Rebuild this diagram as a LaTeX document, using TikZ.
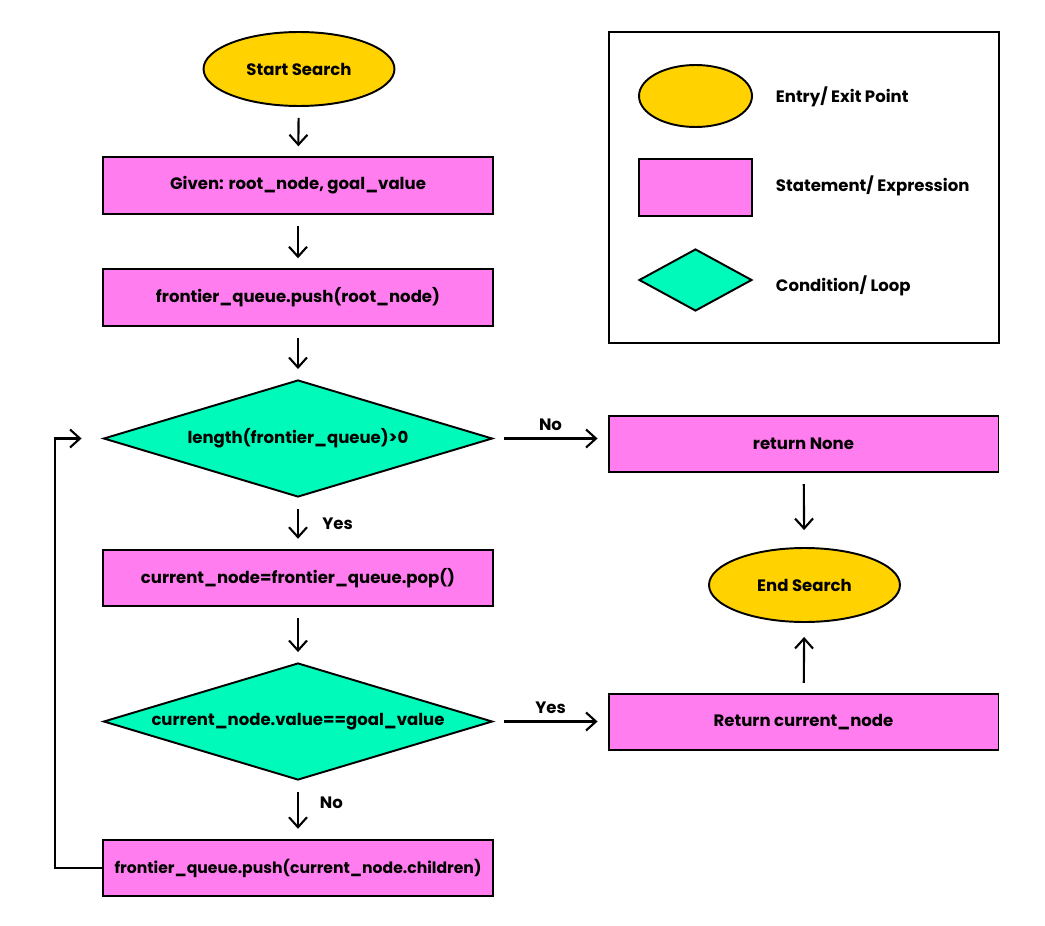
\documentclass[tikz,border=0pt]{standalone}
\usepackage{fontspec}
\setmainfont{Poppins}
\usetikzlibrary{shapes.geometric, arrows.meta}

\definecolor{entry}{RGB}{255,210,0}
\definecolor{stmt}{RGB}{255,125,238}
\definecolor{cond}{RGB}{0,250,185}

\begin{document}
\begin{tikzpicture}[x=0.02cm, y=-0.02cm, line width=1.1pt,
        font=\fontsize{9.4}{11}\selectfont\bfseries,
        term/.style={draw, ellipse, fill=entry, minimum width=3.82cm, minimum height=1.48cm, inner sep=0pt},
        stmtbox/.style={draw, rectangle, fill=stmt, minimum width=7.8cm, minimum height=1.13cm, inner sep=0pt},
        test/.style={draw, diamond, fill=cond, minimum width=7.78cm, minimum height=2.34cm, inner sep=0pt, aspect=3.3},
        arr/.style={-{Straight Barb[length=2mm, width=3.6mm]}, line width=1.2pt, shorten <=0.22cm, shorten >=0.2cm}]
        \useasboundingbox (0,0) rectangle (1045,926);

        % Fluxo
        \node[term] (start) at (299,69) {Start Search};
        \node[stmtbox] (given) at (298,185.5) {Given: root\_node, goal\_value};
        \node[stmtbox] (push) at (298,297.5) {frontier\_queue.push(root\_node)};
        \node[test] (len) at (298,438.5) {length(frontier\_queue)>0};
        \node[stmtbox] (pop) at (298,578) {current\_node=frontier\_queue.pop()};
        \node[test] (eq) at (298,721.5) {current\_node.value==goal\_value};
        \node[stmtbox, font=\fontsize{8.9}{11}\selectfont\bfseries] (children) at (298,868) {frontier\_queue.push(current\_node.children)};

        % Saidas
        \node[stmtbox] (none) at (803.5,444) {return None};
        \node[term] (stop) at (804.5,585) {End Search};
        \node[stmtbox] (found) at (803.5,722) {Return current\_node};

        % Setas
        \draw[arr] (start) -- (given);
        \draw[arr] (given) -- (push);
        \draw[arr] (push) -- (len);
        \draw[arr] (len) -- node[right, xshift=0.35cm] {Yes} (pop);
        \draw[arr] (pop) -- (eq);
        \draw[arr] (eq) -- node[right, xshift=0.3cm, yshift=0.14cm] {No} (children);
        \draw[arr] (len.east) -- node[above, yshift=0.02cm] {No} (none.west |- len.east);
        \draw[arr] (eq.east) -- node[above, yshift=0.02cm] {Yes} (found.west |- eq.east);
        \draw[arr, shorten >=0.34cm] (none) -- (stop);
        \draw[arr, shorten <=0.2cm, shorten >=0.28cm] (found) -- (stop);
        \coordinate (back) at (55,868);
        \draw[arr, shorten <=0pt, shorten >=0.42cm] (children.west) -- (back) |- (len.west);

        % Legenda
        \node[draw, rectangle, minimum width=7.8cm, minimum height=6.22cm, inner sep=0pt] (legend) at (804,187.5) {};
        \node[term, minimum width=2.26cm, minimum height=1.24cm] (lterm) at (695.5,96) {};
        \node[stmtbox, minimum width=2.26cm, minimum height=1.14cm] (lstmt) at (695.5,187.5) {};
        \node[test, minimum width=2.26cm, minimum height=1.24cm, aspect=1.8] (ltest) at (695.5,280) {};
        \node[anchor=west, inner sep=0pt] (lterm text) at (775,97) {Entry/ Exit Point};
        \node[anchor=west, inner sep=0pt] (lstmt text) at (775,186) {Statement/ Expression};
        \node[anchor=west, inner sep=0pt] (ltest text) at (775,286) {Condition/ Loop};
    \end{tikzpicture}
\end{document}
